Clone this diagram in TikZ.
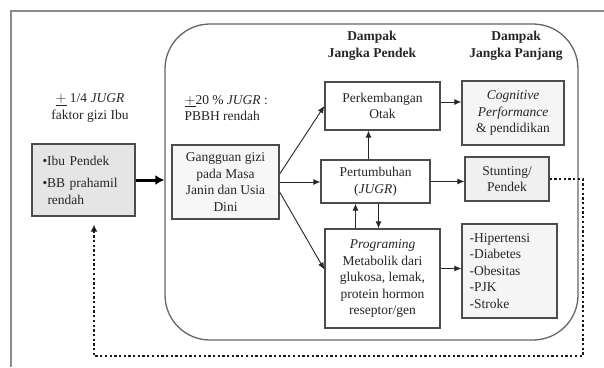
\documentclass[tikz,border=0pt]{standalone}
\usepackage{fontspec}
\setmainfont{Liberation Serif}
\usetikzlibrary{arrows.meta, positioning, calc}

\begin{document}
\begin{tikzpicture}[
        x=1pt, y=-1pt,
        font=\fontsize{13.5}{16.5}\selectfont,
        every node/.style={text=black!85},
        stepbox/.style={draw=black!70, line width=1.3pt, align=center, inner sep=2pt},
        headlabel/.style={align=center, font=\fontsize{13.5}{16.5}\selectfont\bfseries},
        arr/.style={-{Latex[length=7pt, width=6pt]}, line width=0.9pt, color=black!85},
        bigarr/.style={-{Latex[length=9pt, width=10pt]}, line width=3pt, color=black},
        dotarr/.style={-{Latex[length=7pt, width=7pt]}, line width=2.3pt, dash pattern=on 2.3pt off 2.4pt, color=black!90}
      ]
        \useasboundingbox (0,0) rectangle (604,367);

        % outer frame (only top and left edge visible)
        \draw[black!45, line width=1.8pt] (11,367) -- (11,11) -- (604,11);

        % rounded area for the impacts
        \node[draw=black!60, line width=1.3pt, rounded corners=45pt, minimum width=413pt, minimum height=316pt] (area) at (371.5,182) {};

        % left side
        \node[align=center] (ibulabel) at (90,108) {\(\underline{+}\) 1/4 \textit{JUGR}\\faktor gizi Ibu};
        \node[stepbox, fill=black!10, minimum width=103pt, minimum height=72pt, align=left, text width=82pt] (ibu) at (83.5,180)
          {\textbullet Ibu Pendek\\[6pt]\textbullet BB prahamil\\\hspace*{5pt}rendah};

        \node[align=left, anchor=west] (jugrlabel) at (181,108) {\(\underline{+}\)20 \% \textit{JUGR} :\\PBBH rendah};
        \node[stepbox, fill=black!3, minimum width=107pt, minimum height=74pt] (gangguan) at (225.5,182)
          {Gangguan gizi\\pada Masa\\Janin dan Usia\\Dini};

        % headers
        \node[headlabel] (pendek) at (372,46) {Dampak\\Jangka Pendek};
        \node[headlabel] (panjang) at (516,46) {Dampak\\Jangka Panjang};

        % short term
        \node[stepbox, fill=white, minimum width=115pt, minimum height=48pt] (otak) at (382.5,106) {Perkembangan\\Otak};
        \node[stepbox, fill=white, minimum width=109pt, minimum height=43pt] (tumbuh) at (375.5,181.5) {Pertumbuhan\\(\textit{JUGR})};
        \node[stepbox, fill=white, minimum width=115pt, minimum height=99pt] (program) at (382.5,278.5)
          {\textit{Programing}\\Metabolik dari\\glukosa, lemak,\\protein hormon\\reseptor/gen};

        % long term
        \node[stepbox, fill=black!4, minimum width=102pt, minimum height=64pt] (kognitif) at (513,113)
          {\textit{Cognitive}\\\textit{Performance}\\\& pendidikan};
        \node[stepbox, fill=black!6, minimum width=84pt, minimum height=44pt] (stunting) at (507,179) {Stunting/\\Pendek};
        \node[stepbox, fill=black!4, minimum width=95pt, minimum height=94pt, align=left, text width=80pt] (penyakit) at (509.5,271)
          {-Hipertensi\\-Diabetes\\-Obesitas\\-PJK\\-Stroke};

        \coordinate (loopr) at (583,356);
        \coordinate (loopl) at (94,356);

        \draw[bigarr] (ibu.east) -- (ibu.east -| area.west);

        \draw[arr] ([yshift=8pt]gangguan.east) -- (otak.west);
        \draw[arr] (gangguan.east) -- (gangguan.east -| tumbuh.west);
        \draw[arr] ([yshift=-10pt]gangguan.east) -- ([yshift=9pt]program.west);

        \draw[arr] ([yshift=4pt]otak.east) -- ([yshift=4pt]otak.east -| kognitif.west);
        \draw[arr] ([xshift=-7pt]tumbuh.north) -- ([xshift=-7pt]tumbuh.north |- otak.south);
        \draw[arr] ([xshift=-20pt]tumbuh.south |- program.north) -- ([xshift=-20pt]tumbuh.south);
        \draw[arr] ([xshift=3pt]tumbuh.south) -- ([xshift=3pt]tumbuh.south |- program.north);
        \draw[arr] (tumbuh.east) -- (tumbuh.east -| stunting.west);
        \draw[arr] ([yshift=10pt]program.east) -- ([yshift=10pt]program.east -| penyakit.west);

        \draw[dotarr, shorten >=8pt] (stunting.east) -| (loopr) -- (loopl) -- (loopl |- ibu.south);
      \end{tikzpicture}
\end{document}
